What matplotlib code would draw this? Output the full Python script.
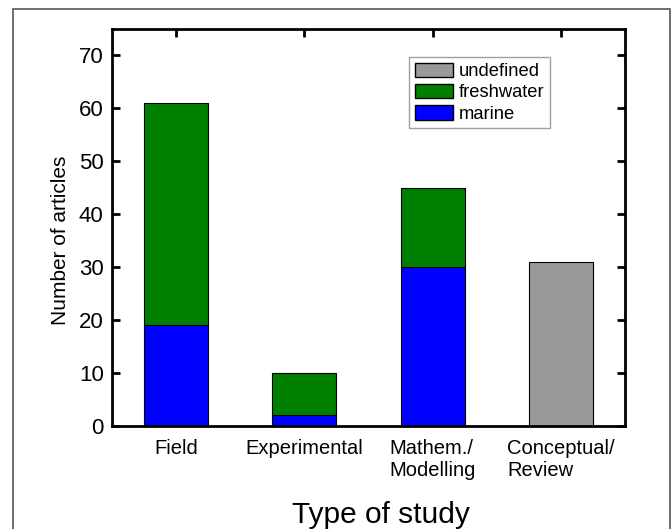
import matplotlib.pyplot as plt
from matplotlib.patches import Rectangle, Patch

plt.rcParams['font.family'] = ['Liberation Sans', 'DejaVu Sans']

# data
categories = ['Field', 'Experimental', 'Mathem./\nModelling', 'Conceptual/\nReview']
marine = [19, 2, 30, 0]
freshwater = [42, 8, 15, 0]
undefined = [0, 0, 0, 31]

W, H = 672, 529
fig = plt.figure(figsize=(W / 100, H / 100), dpi=100)

# outer frame around the whole figure
fig.patches.append(Rectangle((13 / W, -0.05), (670 - 13) / W, 1.05 - 9 / H,
                             transform=fig.transFigure, fill=False,
                             edgecolor='#555555', linewidth=1.2))

ax = fig.add_axes([112 / W, 1 - 426 / H, (625 - 112) / W, (426 - 29) / H])

x = [1, 2, 3, 4]
bw = 0.5
ax.bar(x, marine, bw, color='#0000ff', edgecolor='black', linewidth=0.8)
ax.bar(x, freshwater, bw, bottom=marine, color='#008000', edgecolor='black', linewidth=0.8)
ax.bar(x, undefined, bw, color='#999999', edgecolor='black', linewidth=0.8)

ax.set_xlim(0.5, 4.5)
ax.set_ylim(0, 75)
ax.set_yticks(range(0, 71, 10))
ax.set_xticks(x)
ax.set_xticklabels(categories, fontsize=14.5, ha='center', multialignment='left',
                   linespacing=1.2)
ax.tick_params(axis='both', direction='in', top=True, right=True, length=6, width=2)
ax.tick_params(axis='x', bottom=False, pad=9)
ax.tick_params(axis='y', labelsize=16, pad=6)
for s in ax.spines.values():
    s.set_linewidth(2)

ax.set_ylabel('Number of articles', fontsize=15, labelpad=6)
ax.yaxis.label.set_y((426 - 240) / 397)
fig.text(381 / W, 1 - 515 / H, 'Type of study', fontsize=21.5,
         ha='center', va='center')

handles = [Patch(facecolor='#999999', edgecolor='black', label='undefined'),
           Patch(facecolor='#008000', edgecolor='black', label='freshwater'),
           Patch(facecolor='#0000ff', edgecolor='black', label='marine')]
ax.legend(handles=handles, loc='upper left', bbox_to_anchor=((409 - 112) / 513, (426 - 57) / 397),
          fontsize=13.2, frameon=True, fancybox=False, edgecolor='#888888',
          handlelength=2.1, handleheight=0.85, handletextpad=0.3, labelspacing=0.2,
          borderpad=0.3, borderaxespad=0)

fig.savefig('out.png', dpi=100)
